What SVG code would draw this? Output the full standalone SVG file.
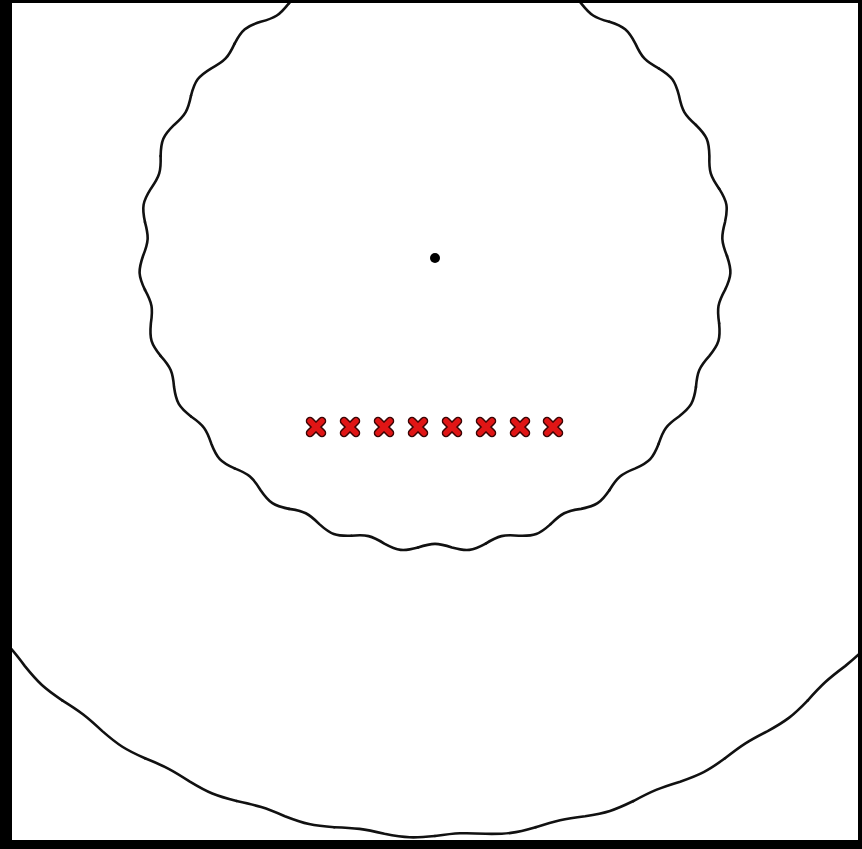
<svg xmlns="http://www.w3.org/2000/svg" xmlns:xlink="http://www.w3.org/1999/xlink" width="862" height="849" viewBox="0 0 862 849">
  <style>
    .wave { fill: none; stroke: #111; stroke-width: 2.6; stroke-linecap: round; }
    .xo { stroke: #3a0505; stroke-width: 8.5; stroke-linecap: round; }
    .xi { stroke: #e01515; stroke-width: 5.5; stroke-linecap: round; }
  </style>
  <defs>
    <clipPath id="frame"><rect x="12" y="3" width="846" height="837"/></clipPath>
    <path id="wSmall" class="wave" d="M292,0 C296.97,14.68 296.66,19.90 290.03,33.90 C282.74,47.29 281.87,52.26 284.13,67.34"/>
    <path id="wBig" class="wave" d="M580,0 C582.27,21.57 581.94,29.26 577.79,50.55 C572.87,71.58 571.89,79.13 571.19,100.72"/>
    <g id="cross">
      <path class="xo" d="M-6,-6 L6,6 M6,-6 L-6,6"/>
      <path class="xi" d="M-6,-6 L6,6 M6,-6 L-6,6"/>
    </g>
  </defs>
  <rect width="862" height="849" fill="#000"/>
  <rect x="12" y="3" width="846" height="837" fill="#fff"/>
  <g clip-path="url(#frame)">
    <g id="inner-circle" transform="translate(435,256)">
      <use xlink:href="#wSmall" transform="rotate(80)"/>
      <use xlink:href="#wSmall" transform="rotate(93.3333)"/>
      <use xlink:href="#wSmall" transform="rotate(106.6667)"/>
      <use xlink:href="#wSmall" transform="rotate(120)"/>
      <use xlink:href="#wSmall" transform="rotate(133.3333)"/>
      <use xlink:href="#wSmall" transform="rotate(146.6667)"/>
      <use xlink:href="#wSmall" transform="rotate(160)"/>
      <use xlink:href="#wSmall" transform="rotate(173.3333)"/>
      <use xlink:href="#wSmall" transform="rotate(186.6667)"/>
      <use xlink:href="#wSmall" transform="rotate(200)"/>
      <use xlink:href="#wSmall" transform="rotate(213.3333)"/>
      <use xlink:href="#wSmall" transform="rotate(226.6667)"/>
      <use xlink:href="#wSmall" transform="rotate(240)"/>
      <use xlink:href="#wSmall" transform="rotate(253.3333)"/>
      <use xlink:href="#wSmall" transform="rotate(266.6667)"/>
      <use xlink:href="#wSmall" transform="rotate(280)"/>
      <use xlink:href="#wSmall" transform="rotate(293.3333)"/>
      <use xlink:href="#wSmall" transform="rotate(306.6667)"/>
      <use xlink:href="#wSmall" transform="rotate(320)"/>
      <use xlink:href="#wSmall" transform="rotate(333.3333)"/>
      <use xlink:href="#wSmall" transform="rotate(346.6667)"/>
      <use xlink:href="#wSmall" transform="rotate(0)"/>
      <use xlink:href="#wSmall" transform="rotate(13.3333)"/>
      <use xlink:href="#wSmall" transform="rotate(26.6667)"/>
      <use xlink:href="#wSmall" transform="rotate(40)"/>
      <use xlink:href="#wSmall" transform="rotate(53.3333)"/>
      <use xlink:href="#wSmall" transform="rotate(66.6667)"/>
    </g>
    <g id="outer-circle" transform="translate(435,256)">
      <use xlink:href="#wBig" transform="rotate(20)"/>
      <use xlink:href="#wBig" transform="rotate(30)"/>
      <use xlink:href="#wBig" transform="rotate(40)"/>
      <use xlink:href="#wBig" transform="rotate(50)"/>
      <use xlink:href="#wBig" transform="rotate(60)"/>
      <use xlink:href="#wBig" transform="rotate(70)"/>
      <use xlink:href="#wBig" transform="rotate(80)"/>
      <use xlink:href="#wBig" transform="rotate(90)"/>
      <use xlink:href="#wBig" transform="rotate(100)"/>
      <use xlink:href="#wBig" transform="rotate(110)"/>
      <use xlink:href="#wBig" transform="rotate(120)"/>
      <use xlink:href="#wBig" transform="rotate(130)"/>
      <use xlink:href="#wBig" transform="rotate(140)"/>
      <use xlink:href="#wBig" transform="rotate(150)"/>
    </g>
  </g>
  <circle id="center-dot" cx="435" cy="258" r="5" fill="#000"/>
  <g id="markers">
    <use xlink:href="#cross" transform="translate(316,427)"/>
    <use xlink:href="#cross" transform="translate(350,427)"/>
    <use xlink:href="#cross" transform="translate(384,427)"/>
    <use xlink:href="#cross" transform="translate(418,427)"/>
    <use xlink:href="#cross" transform="translate(452,427)"/>
    <use xlink:href="#cross" transform="translate(486,427)"/>
    <use xlink:href="#cross" transform="translate(520,427)"/>
    <use xlink:href="#cross" transform="translate(553,427)"/>
  </g>
</svg>
